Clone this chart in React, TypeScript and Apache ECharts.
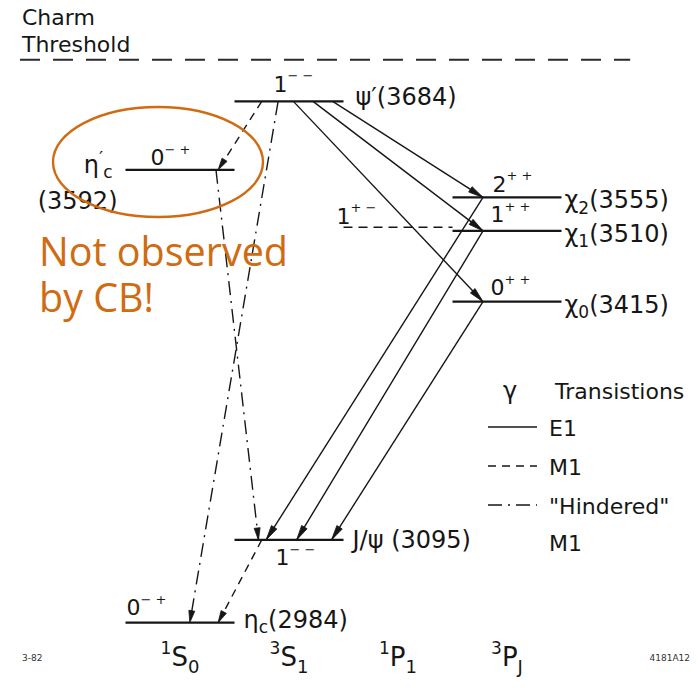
import React, { useEffect, useRef } from "react";
import * as echarts from "echarts";

// ---------------- data ----------------
const columnTicks = ["1|S|0", "3|S|1", "1|P|1", "3|P|J"]; // superscript | letter | subscript

const levelKeys = ["psi2S", "etac2S", "chi2", "chi1", "hc", "chi0", "jpsi", "etac"];
const levelMasses = [3684, 3592, 3555, 3510, 3515, 3415, 3095, 2984];
const levelColumns = [1, 0, 3, 3, 2, 3, 1, 0];
const levelJPC = ["1|− −", "0|− +", "2|+ +", "1|+ +", "1|+ −", "0|+ +", "1|− −", "0|− +"];
const levelObserved = [true, true, true, true, false, true, true, true];
const levelNames = [
  ["{n|ψ′(3684)}"],
  ["{n|η}{p|′}{b|c}", "{n|(3592)}"],
  ["{n|χ}{b|2}{n|(3555)}"],
  ["{n|χ}{b|1}{n|(3510)}"],
  [],
  ["{n|χ}{b|0}{n|(3415)}"],
  ["{n|J/ψ (3095)}"],
  ["{n|η}{b|c}{n|(2984)}"],
];

const thresholdMass = 3740;
const thresholdText = ["Charm", "Threshold"];

const transFrom = ["psi2S", "psi2S", "psi2S", "chi2", "chi1", "chi0", "psi2S", "jpsi", "psi2S", "etac2S"];
const transTo = ["chi2", "chi1", "chi0", "jpsi", "jpsi", "jpsi", "etac2S", "etac", "etac", "jpsi"];
const transType = ["E1", "E1", "E1", "E1", "E1", "E1", "M1", "M1", "HM1", "HM1"];

const legendTitle = ["γ", "Transistions"];
const legendTypes = ["E1", "M1", "HM1"];
const legendLabels = [["E1"], ["M1"], ["\"Hindered\"", "M1"]];

const annotationText = "Not observed\nby CB!";
const cornerNotes = ["3-82", "4181A12"];

// ---------------- layout & style ----------------
const INK = "#161616";
const FONT = "DejaVu Sans";
const ORANGE = "#d06b12";
const LEVEL_HALF = 0.5;
const THRESH_X = [-1.468, 4.13];
const transFromDx = [0.4, 0.22, 0.04, -0.22, -0.22, -0.22, -0.25, -0.25, -0.1, 0.33];
const transToDx = [-0.22, -0.22, -0.22, -0.21, 0.07, 0.39, 0.35, 0.35, 0.09, -0.28];
const DASH: Record<string, number[] | null> = { E1: null, M1: [8, 6], HM1: [14, 6, 2, 6] };
const jpcOffset = [[39, -17], [25, -12], [40, -13], [38, -16], [-7, -11], [38, -14], [41, 18], [1, -15]];
// [anchor, dx, dy, align]
const nameOffset: [string, number, number, string][][] = [
  [["R", 12, -4, "left"]],
  [["L", -13, -5, "right"], ["L", -8, 31, "right"]],
  [["R", 3, 3, "left"]],
  [["R", 3, 3, "left"]],
  [],
  [["R", 3, 3, "left"]],
  [["R", 9, 0, "left"]],
  [["R", 9, -3, "left"]],
];
const legendY = [427, 466, 505];

const NAME_RICH = {
  n: { fontFamily: FONT, fontSize: 24, lineHeight: 32, color: INK, fill: INK, verticalAlign: "middle" },
  b: { fontFamily: FONT, fontSize: 17, lineHeight: 12, color: INK, fill: INK, verticalAlign: "bottom" },
  p: { fontFamily: FONT, fontSize: 18, lineHeight: 14, color: INK, fill: INK, verticalAlign: "top" },
};
const JPC_RICH = {
  j: { fontFamily: FONT, fontSize: 22, lineHeight: 30, color: INK, fill: INK, verticalAlign: "middle" },
  s: { fontFamily: FONT, fontSize: 13, lineHeight: 12, color: INK, fill: INK, verticalAlign: "top" },
};

function arrowHead(from: number[], to: number[], len: number, half: number) {
  const dx = to[0] - from[0];
  const dy = to[1] - from[1];
  const L = Math.hypot(dx, dy) || 1;
  const ux = dx / L;
  const uy = dy / L;
  const bx = to[0] - ux * len;
  const by = to[1] - uy * len;
  return [
    [to[0], to[1]],
    [bx - uy * half, by + ux * half],
    [bx + uy * half, by - ux * half],
  ];
}

function lineStyle(kind: string, width: number) {
  const s: any = { stroke: INK, lineWidth: width };
  if (DASH[kind]) s.lineDash = DASH[kind];
  return s;
}

const levelData = levelMasses.map((m, i) => [levelColumns[i], m, i]);
const transData = transFrom.map((f, i) => {
  const a = levelKeys.indexOf(f);
  const b = levelKeys.indexOf(transTo[i]);
  return [levelColumns[a] + transFromDx[i], levelMasses[a], levelColumns[b] + transToDx[i], levelMasses[b], i];
});

function buildOption() {
  const graphic: any[] = [];
  // legend
  graphic.push({ type: "text", x: 503, y: 391, style: { text: legendTitle[0], fontFamily: FONT, fontSize: 24, fill: INK, align: "left", verticalAlign: "middle" } });
  graphic.push({ type: "text", x: 555, y: 391, style: { text: legendTitle[1], fontFamily: FONT, fontSize: 22, fill: INK, align: "left", verticalAlign: "middle" } });
  legendTypes.forEach((k, i) => {
    graphic.push({ type: "line", shape: { x1: 488, y1: legendY[i], x2: 537, y2: legendY[i] }, style: lineStyle(k, 1.6) });
    legendLabels[i].forEach((t, j) => {
      graphic.push({
        type: "text", x: 549, y: legendY[i] + 1 + j * 37,
        style: { text: t, fontFamily: FONT, fontSize: 22, fill: INK, align: "left", verticalAlign: "middle" },
      });
    });
  });
  // annotation
  graphic.push({ type: "ellipse", shape: { cx: 158, cy: 162, rx: 105, ry: 55 }, style: { fill: "transparent", stroke: ORANGE, lineWidth: 2.4 }, z: 100 });
  graphic.push({
    type: "text", x: 39, y: 228, z: 100,
    style: { text: annotationText, fontFamily: "Open Sans", fontSize: 39.5, lineHeight: 46, fill: ORANGE, align: "left", verticalAlign: "top" },
  });
  graphic.push({ type: "text", x: 22, y: 658, style: { text: cornerNotes[0], fontFamily: FONT, fontSize: 9, fill: "#333", align: "left", verticalAlign: "middle" } });
  graphic.push({ type: "text", x: 690, y: 658, style: { text: cornerNotes[1], fontFamily: FONT, fontSize: 9, fill: "#333", align: "right", verticalAlign: "middle" } });

  return {
    animation: false,
    backgroundColor: "#ffffff",
    grid: { left: 71, right: 82, top: 15, bottom: 62 },
    xAxis: {
      type: "value", min: -1, max: 4, interval: 1,
      axisLine: { show: false }, axisTick: { show: false }, splitLine: { show: false },
      axisLabel: {
        margin: 6,
        formatter: (v: number) => {
          const t = columnTicks[v];
          if (!t) return "";
          const [a, b, c] = t.split("|");
          return `{sp|${a}}{s|${b}}{sb|${c}}`;
        },
        rich: {
          s: { fontFamily: FONT, fontSize: 26, lineHeight: 36, color: INK, verticalAlign: "middle" },
          sp: { fontFamily: FONT, fontSize: 17, lineHeight: 16, color: INK, verticalAlign: "top" },
          sb: { fontFamily: FONT, fontSize: 18, lineHeight: 12, color: INK, verticalAlign: "bottom" },
        },
      },
    },
    yAxis: { type: "value", min: 2970, max: 3800, show: false, splitLine: { show: false } },
    series: [
      {
        type: "custom",
        name: "threshold",
        silent: true,
        data: [[0, thresholdMass]],
        encode: { x: 0, y: 1 },
        renderItem: (_p: any, api: any) => {
          const m = api.value(1);
          const L = api.coord([THRESH_X[0], m]);
          const R = api.coord([THRESH_X[1], m]);
          return {
            type: "group",
            children: [
              { type: "line", shape: { x1: L[0], y1: L[1], x2: R[0], y2: R[1] }, style: { stroke: "#2a2a2a", lineWidth: 2, lineDash: [20, 13] } },
              { type: "text", x: L[0] + 2, y: L[1] - 42, style: { text: thresholdText[0], fontFamily: FONT, fontSize: 22, fill: INK, align: "left", verticalAlign: "middle" } },
              { type: "text", x: L[0] + 2, y: L[1] - 15, style: { text: thresholdText[1], fontFamily: FONT, fontSize: 22, fill: INK, align: "left", verticalAlign: "middle" } },
            ],
          };
        },
      },
      {
        type: "custom",
        name: "transitions",
        silent: true,
        data: transData,
        encode: { x: [0, 2], y: [1, 3] },
        renderItem: (_p: any, api: any) => {
          const i = api.value(4);
          const kind = transType[i];
          const p0 = api.coord([api.value(0), api.value(1)]);
          const p1 = api.coord([api.value(2), api.value(3)]);
          const head = kind === "E1" ? arrowHead(p0, p1, 15, 3.2) : arrowHead(p0, p1, 12, 3);
          return {
            type: "group",
            children: [
              { type: "line", shape: { x1: p0[0], y1: p0[1], x2: p1[0], y2: p1[1] }, style: lineStyle(kind, 1.4) },
              { type: "polygon", shape: { points: head }, style: { fill: INK, stroke: INK, lineWidth: 0.8 } },
            ],
          };
        },
      },
      {
        type: "custom",
        name: "levels",
        silent: true,
        data: levelData,
        encode: { x: 0, y: 1 },
        z: 3,
        renderItem: (_p: any, api: any) => {
          const i = api.value(2);
          const col = api.value(0);
          const m = api.value(1);
          const L = api.coord([col - LEVEL_HALF, m]);
          const R = api.coord([col + LEVEL_HALF, m]);
          const children: any[] = [];
          const ls: any = { stroke: INK, lineWidth: 2.2 };
          if (!levelObserved[i]) { ls.lineDash = [9, 6]; ls.lineWidth = 1.5; }
          children.push({ type: "line", shape: { x1: L[0], y1: L[1], x2: R[0], y2: R[1] }, style: ls });
          const [a, b] = levelJPC[i].split("|");
          children.push({
            type: "text", x: L[0] + jpcOffset[i][0], y: L[1] + jpcOffset[i][1],
            style: { text: `{j|${a}}{s|${b}}`, rich: JPC_RICH, fill: INK, fontFamily: FONT, fontSize: 22, align: "left", verticalAlign: "middle" },
          });
          levelNames[i].forEach((t, k) => {
            const [anc, dx, dy, al] = nameOffset[i][k];
            const P = anc === "L" ? L : R;
            children.push({
              type: "text", x: P[0] + dx, y: P[1] + dy,
              style: { text: t, rich: NAME_RICH, fill: INK, fontFamily: FONT, fontSize: 24, align: al, verticalAlign: "middle" },
            });
          });
          return { type: "group", children };
        },
      },
    ],
    graphic,
  };
}

export default function App() {
  const ref = useRef<HTMLDivElement>(null);
  useEffect(() => {
    if (!ref.current) return;
    const chart = echarts.init(ref.current, null, { renderer: "svg" });
    chart.setOption(buildOption() as any);
    return () => chart.dispose();
  }, []);
  return (
    <div
      ref={ref}
      style={{ position: "fixed", left: 0, top: 0, width: 698, height: 695, background: "#fff" }}
    />
  );
}
